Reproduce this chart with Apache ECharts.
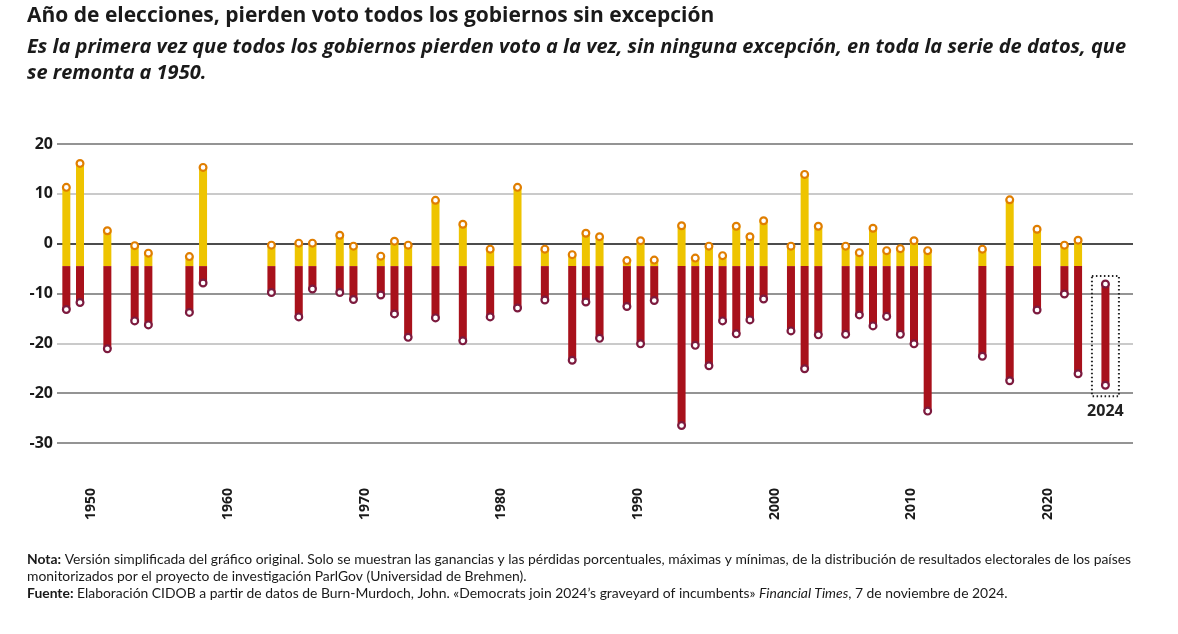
<!DOCTYPE html>
<html>
<head>
<meta charset="utf-8">
<script src="https://cdn.jsdelivr.net/npm/echarts@6/dist/echarts.min.js"></script>
<style>
html,body{margin:0;padding:0;background:#fff;}
#chart{width:1178px;height:634px;}
</style>
</head>
<body>
<div id="chart"></div>
<script>
// ---- Data ----
const years = [1948,1949,1951,1953,1954,1957,1958,1963,1965,1966,1968,1969,1971,1972,1973,1975,1977,1979,1981,1983,1985,1986,1987,1989,1990,1991,1993,1994,1995,1996,1997,1998,1999,2001,2002,2003,2005,2006,2007,2008,2009,2010,2011,2015,2017,2019,2021,2022,2024];
const maxGain = [11.3,16.1,2.6,-0.4,-1.9,-2.6,15.3,-0.3,0.1,0.1,1.7,-0.5,-2.5,0.5,-0.3,8.7,3.9,-1.1,11.3,-1.1,-2.2,2.1,1.4,-3.4,0.6,-3.3,3.6,-2.9,-0.5,-2.4,3.5,1.4,4.6,-0.5,13.9,3.5,-0.5,-1.8,3.1,-1.4,-1.0,0.6,-1.4,-1.1,8.8,2.9,-0.3,0.7,-8.1];
const minLoss = [-13.2,-11.8,-21.1,-15.5,-16.3,-13.8,-7.9,-9.8,-14.7,-9.1,-9.8,-11.2,-10.3,-14.1,-18.8,-14.9,-19.5,-14.7,-12.9,-11.3,-23.4,-11.7,-19.0,-12.6,-20.1,-11.4,-36.5,-20.4,-24.5,-15.5,-18.1,-15.3,-11.1,-17.5,-25.1,-18.3,-18.2,-14.3,-16.5,-14.6,-18.2,-20.1,-33.6,-22.6,-27.5,-13.3,-10.1,-26.1,-28.4];
const baseline = -4.5;
const highlightYears = [2024];
const xTickValues = [1950,1960,1970,1980,1990,2000,2010,2020];
const yTickValues = [20,10,0,-10,-20,-30,-40];
const yTickLabels = ['20','10','0','-10','-20','-20','-30'];

const titleText = 'Año de elecciones, pierden voto todos los gobiernos sin excepción';
const subtitleLines = ['Es la primera vez que todos los gobiernos pierden voto a la vez, sin ninguna excepción, en toda la serie de datos, que','se remonta a 1950.'];

// ---- Chart ----
const chart = echarts.init(document.getElementById('chart'), null, {renderer:'canvas'});
const data = years.map((y,i)=>[y, maxGain[i], minLoss[i]]);

const YELLOW = '#EEC400', RED = '#A8111B', ORANGE = '#E07E00', MAROON = '#7C1A3E';

function renderItem(params, api){
  const yr = api.value(0), mx = api.value(1), mn = api.value(2);
  const x = api.coord([yr, 0])[0] + 2.5;
  const yMax = api.coord([yr, mx])[1];
  const yMin = api.coord([yr, mn])[1];
  const yBase = api.coord([yr, baseline])[1];
  const w = 8;
  const children = [];
  const above = mx > baseline;
  if (above) {
    children.push({type:'rect', shape:{x:x-w/2, y:yMax, width:w, height:yBase-yMax}, style:{fill:YELLOW}});
    children.push({type:'rect', shape:{x:x-w/2, y:yBase, width:w, height:yMin-yBase}, style:{fill:RED}});
  } else {
    children.push({type:'rect', shape:{x:x-w/2, y:yMax, width:w, height:yMin-yMax}, style:{fill:RED}});
  }
  children.push({type:'circle', shape:{cx:x, cy:yMax, r:3.4}, style:{fill:'#fff', stroke: above?ORANGE:MAROON, lineWidth:2.2}});
  children.push({type:'circle', shape:{cx:x, cy:yMin, r:3.4}, style:{fill:'#fff', stroke:MAROON, lineWidth:2.2}});
  if (highlightYears.indexOf(yr) >= 0) {
    children.push({type:'rect', shape:{x:x-13.5, y:yMax-8, width:27, height:(yMin-yMax)+19},
      style:{fill:'none', stroke:'#222', lineWidth:2, lineDash:[1.5,2.5]}});
    children.push({type:'text', style:{text:String(yr), x:x, y:yMin+18, align:'center', verticalAlign:'top',
      fill:'#222', font:'bold 16px "Open Sans", sans-serif'}});
  }
  return {type:'group', children};
}

chart.setOption({
  animation:false,
  grid:{left:57, right:45, top:144, bottom:191, containLabel:false},
  xAxis:{
    type:'value', min:1947.5, max:2026.2,
    axisLine:{show:false}, axisTick:{show:false}, splitLine:{show:false},
    axisLabel:{customValues:xTickValues, rotate:90, margin:45, color:'#1a1a1a',
      fontFamily:'"Open Sans", sans-serif', fontWeight:'bold', fontSize:14,
      formatter:v=>String(v)}
  },
  yAxis:{
    type:'value', min:-40, max:20, interval:10,
    axisLine:{show:false}, axisTick:{show:false},
    splitLine:{show:true, lineStyle:{width:1.5, color:['#707070','#707070','#b9b9b9','#707070','#111111','#b9b9b9','#707070']}},
    axisLabel:{margin:4, color:'#1a1a1a', fontFamily:'"Open Sans", sans-serif', fontWeight:'bold', fontSize:16,
      formatter:v=>{const i=yTickValues.indexOf(v); return i>=0?yTickLabels[i]:'';}}
  },
  series:[{type:'custom', renderItem, data, encode:{x:0,y:[1,2]}, clip:false}],
  graphic:[
    {type:'text', left:27, top:6, style:{text:titleText, fill:'#1a1a1a', font:'bold 21px "Open Sans", sans-serif'}},
    {type:'text', left:27, top:34, style:{text:subtitleLines.join('\n'), fill:'#1a1a1a', font:'italic bold 20px "Open Sans", sans-serif', lineHeight:26}},
    {type:'text', left:27, top:551, style:{
      text:'{b|Nota:} Versión simplificada del gráfico original. Solo se muestran las ganancias y las pérdidas porcentuales, máximas y mínimas, de la distribución de resultados electorales de los países\nmonitorizados por el proyecto de investigación ParlGov (Universidad de Brehmen).\n{b|Fuente:} Elaboración CIDOB a partir de datos de Burn-Murdoch, John. «Democrats join 2024’s graveyard of incumbents» {i|Financial Times}, 7 de noviembre de 2024.',
      fill:'#1a1a1a', font:'13.9px Lato, sans-serif', lineHeight:17,
      rich:{
        b:{fontWeight:'bold', fontFamily:'Lato, sans-serif', fontSize:13.9, lineHeight:17, fill:'#1a1a1a'},
        i:{fontStyle:'italic', fontFamily:'Lato, sans-serif', fontSize:13.9, lineHeight:17, fill:'#1a1a1a'}
      }
    }}
  ]
});
</script>
</body>
</html>
